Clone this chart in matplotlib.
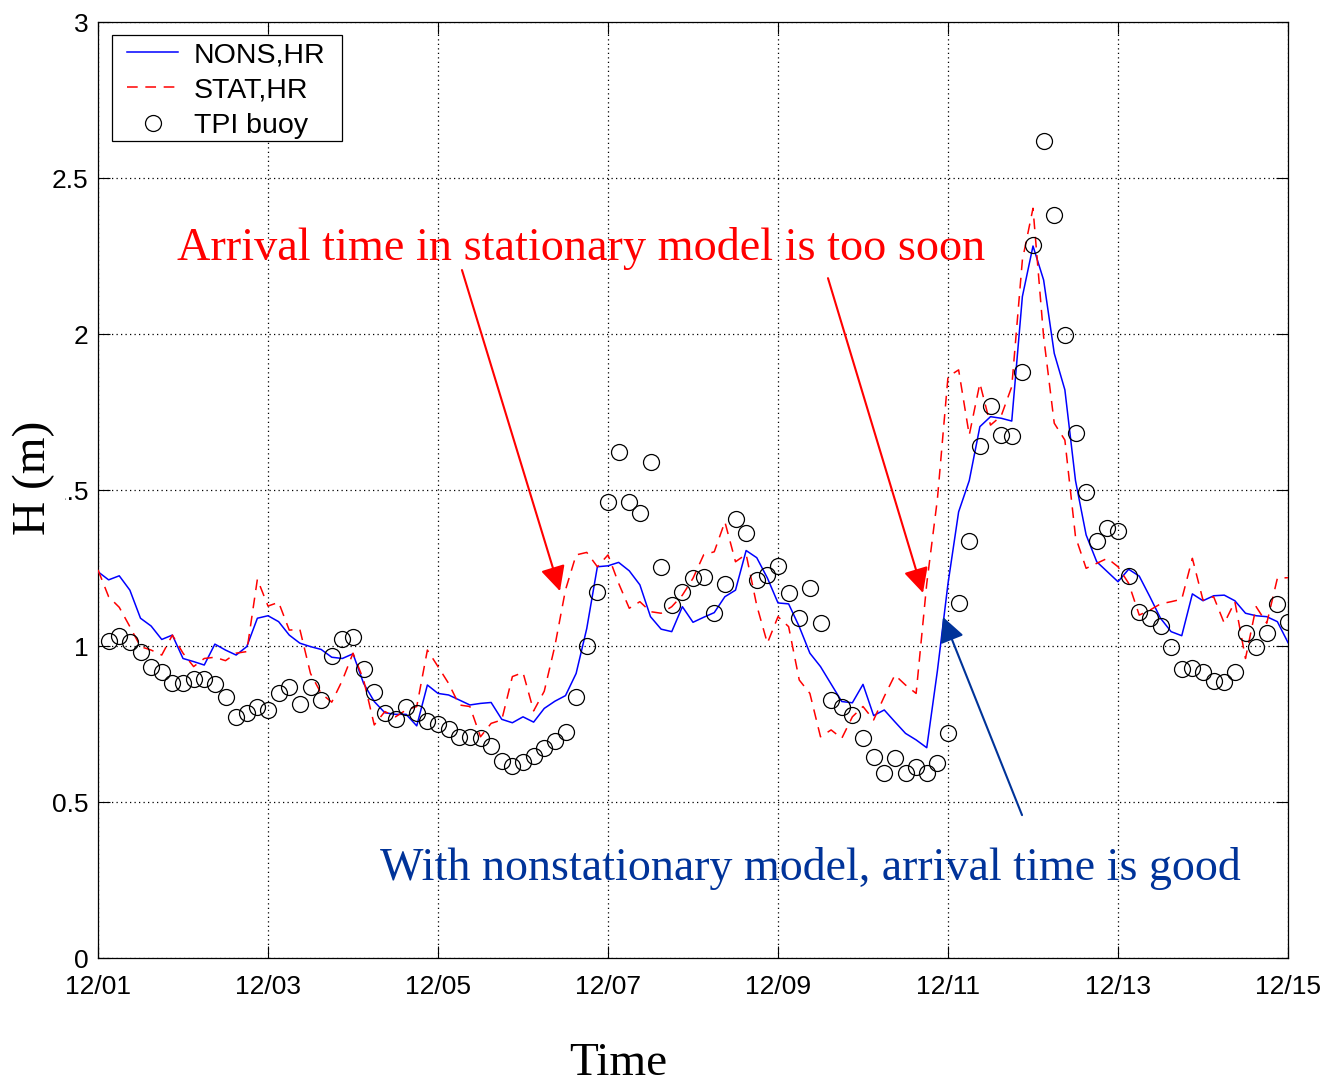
import numpy as np
import matplotlib
matplotlib.use('Agg')
import matplotlib.pyplot as plt
from matplotlib.patches import Rectangle

# ---------------- data ----------------
step_days = 0.125  # 3-hourly samples, days since 12/01
date_ticks = [0, 2, 4, 6, 8, 10, 12, 14]
date_labels = ['12/01', '12/03', '12/05', '12/07', '12/09', '12/11', '12/13', '12/15']
y_ticks = [0, 0.5, 1, 1.5, 2, 2.5, 3]
y_ticklabels = ['0', '0.5', '1', '1.5', '2', '2.5', '3']

nons_hr = [1.238, 1.212, 1.225, 1.179, 1.089, 1.064, 1.021, 1.035, 0.960, 0.950,
           0.939, 1.006, 0.987, 0.971, 0.998, 1.089, 1.097, 1.078, 1.035, 1.009,
           0.998, 0.989, 0.964, 0.960, 0.975, 0.880, 0.822, 0.786, 0.781, 0.781,
           0.744, 0.875, 0.848, 0.843, 0.827, 0.811, 0.816, 0.819, 0.765, 0.754,
           0.773, 0.756, 0.800, 0.823, 0.841, 0.912, 1.056, 1.254, 1.257, 1.268,
           1.241, 1.196, 1.094, 1.054, 1.046, 1.126, 1.076, 1.092, 1.107, 1.158,
           1.179, 1.306, 1.283, 1.218, 1.138, 1.135, 1.062, 0.977, 0.934, 0.878,
           0.822, 0.818, 0.877, 0.777, 0.795, 0.757, 0.720, 0.699, 0.674, 0.920,
           1.200, 1.430, 1.530, 1.703, 1.735, 1.730, 1.721, 2.120, 2.282, 2.173,
           1.938, 1.821, 1.530, 1.356, 1.270, 1.238, 1.206, 1.246, 1.224, 1.158,
           1.089, 1.046, 1.033, 1.167, 1.145, 1.161, 1.163, 1.145, 1.105, 1.097,
           1.094, 1.078, 1.011]

stat_hr = [1.244, 1.158, 1.124, 1.062, 0.998, 0.987, 0.971, 1.035, 0.977, 0.934,
           0.960, 0.964, 0.953, 0.977, 0.982, 1.214, 1.128, 1.140, 1.051, 1.053,
           0.912, 0.848, 0.820, 0.890, 0.977, 0.891, 0.747, 0.790, 0.773, 0.795,
           0.806, 0.987, 0.934, 0.880, 0.811, 0.806, 0.709, 0.752, 0.763, 0.902,
           0.915, 0.792, 0.855, 1.000, 1.180, 1.292, 1.300, 1.254, 1.292, 1.201,
           1.121, 1.142, 1.110, 1.105, 1.126, 1.163, 1.217, 1.292, 1.302, 1.398,
           1.270, 1.294, 1.130, 1.009, 1.094, 1.062, 0.891, 0.848, 0.709, 0.731,
           0.704, 0.773, 0.806, 0.763, 0.838, 0.907, 0.875, 0.848, 1.200, 1.470,
           1.863, 1.885, 1.676, 1.842, 1.708, 1.737, 1.831, 2.237, 2.403, 1.991,
           1.714, 1.660, 1.350, 1.249, 1.265, 1.281, 1.254, 1.201, 1.099, 1.115,
           1.135, 1.142, 1.150, 1.281, 1.147, 1.158, 1.073, 1.142, 0.960, 1.126,
           1.073, 1.217, 1.219]

tpi_buoy = [1.017, 1.032, 1.014, 0.982, 0.932, 0.918, 0.880, 0.880, 0.893, 0.893,
            0.878, 0.838, 0.773, 0.786, 0.803, 0.795, 0.848, 0.870, 0.813, 0.870,
            0.827, 0.967, 1.021, 1.028, 0.925, 0.852, 0.784, 0.765, 0.803, 0.784,
            0.760, 0.750, 0.733, 0.707, 0.709, 0.706, 0.679, 0.632, 0.615, 0.628,
            0.646, 0.672, 0.695, 0.724, 0.835, 1.000, 1.172, 1.463, 1.623, 1.463,
            1.425, 1.591, 1.254, 1.131, 1.172, 1.217, 1.220, 1.105, 1.198, 1.406,
            1.362, 1.210, 1.226, 1.258, 1.169, 1.091, 1.185, 1.075, 0.827, 0.803,
            0.779, 0.706, 0.643, 0.594, 0.640, 0.594, 0.613, 0.594, 0.624, 0.722,
            1.137, 1.337, 1.641, 1.769, 1.676, 1.674, 1.879, 2.285, 2.620, 2.383,
            1.997, 1.682, 1.493, 1.338, 1.377, 1.369, 1.225, 1.108, 1.089, 1.065,
            0.996, 0.926, 0.928, 0.918, 0.889, 0.886, 0.918, 1.043, 0.996, 1.043,
            1.135, 1.078]

t_model = np.arange(len(nons_hr)) * step_days
t_buoy = (np.arange(len(tpi_buoy)) + 1) * step_days

# ---------------- figure ----------------
W, H = 1327, 1086
fig = plt.figure(figsize=(W / 100, H / 100), dpi=100)
ax = fig.add_axes([98 / W, 1 - 958 / H, 1190 / W, 936 / H])

sans = 'Liberation Sans'
serif = 'Liberation Serif'

ax.plot(t_model, nons_hr, color='#0000ff', lw=1.1, label='NONS,HR', zorder=3)
ax.plot(t_model, stat_hr, color='#ff0000', lw=1.1, dashes=(7, 5), label='STAT,HR', zorder=3)
ax.plot(t_buoy, tpi_buoy, ls='none', marker='o', ms=11.5, mfc='none', mec='black',
        mew=0.9, label='TPI buoy', zorder=3)

ax.set_xlim(0, 14)
ax.set_ylim(0, 3)
ax.set_xticks(date_ticks)
ax.set_xticklabels(date_labels, fontfamily=sans)
ax.set_yticks(y_ticks)
ax.set_yticklabels(y_ticklabels, fontfamily=sans)
ax.tick_params(direction='in', length=8.5, width=0.8, top=True, right=True,
               labelsize=19, colors='black')
ax.tick_params(axis='x', pad=12)
ax.tick_params(axis='y', pad=7)
ax.grid(True, color='black', lw=0.9, linestyle=(0, (1, 2.6)))
for s in ax.spines.values():
    s.set_linewidth(0.9)
    s.set_color('black')

# legend with a square white frame
frame = Rectangle(((112 - 98) / 1190, (958 - 141) / 936), 230 / 1190, 106 / 936,
                  transform=ax.transAxes, facecolor='white', edgecolor='black',
                  lw=0.9, zorder=4)
ax.add_patch(frame)
leg = ax.legend(loc='upper left', bbox_to_anchor=((127 - 98) / 1190, (958 - 42) / 936),
                frameon=False, borderpad=0, borderaxespad=0, handlelength=1.8,
                handletextpad=0.55, labelspacing=0.33, numpoints=1,
                prop={'family': sans, 'size': 20.5})
leg.set_zorder(5)

# annotations
ax.text(0.929, 2.237, 'Arrival time in stationary model is too soon', color='#ff0000',
        fontsize=33.3, family=serif, ha='left', va='baseline', zorder=6)
ax.text(3.318, 0.25, 'With nonstationary model, arrival time is good', color='#003399',
        fontsize=33.1, family=serif, ha='left', va='baseline', zorder=6)

astyle = '-|>,head_length=0.4,head_width=0.2'
ax.annotate('', xy=(5.435, 1.176), xytext=(4.282, 2.205),
            arrowprops=dict(arrowstyle=astyle, mutation_scale=38, color='#ff0000',
                            lw=1.5, shrinkA=0, shrinkB=0), zorder=6)
ax.annotate('', xy=(9.706, 1.170), xytext=(8.588, 2.179),
            arrowprops=dict(arrowstyle=astyle, mutation_scale=38, color='#ff0000',
                            lw=1.5, shrinkA=0, shrinkB=0), zorder=6)
ax.annotate('', xy=(9.941, 1.093), xytext=(10.871, 0.458),
            arrowprops=dict(arrowstyle=astyle, mutation_scale=38, color='#003399',
                            lw=1.5, shrinkA=0, shrinkB=0), zorder=6)

# axis titles
fig.text(618 / W, 1 - 1064 / H, 'Time', ha='center', va='center', fontsize=34, family=serif)
fig.text(34 / W, 1 - 478 / H, 'H (m)', ha='center', va='center', rotation=90,
         fontsize=34, family=serif,
         bbox=dict(facecolor='white', edgecolor='none', pad=7))

fig.savefig('out.png', dpi=100)
